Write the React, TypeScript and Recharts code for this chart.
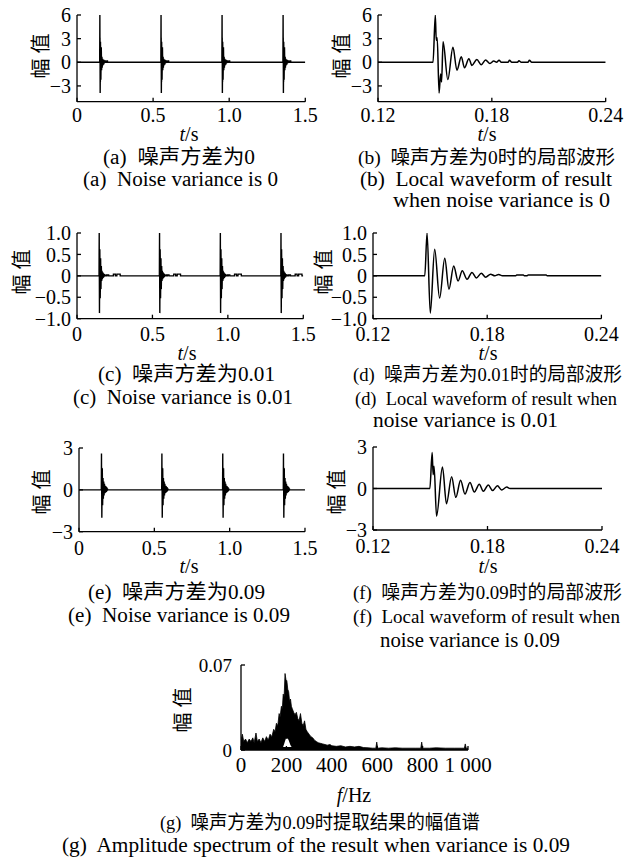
import React from "react";
import { ComposedChart, Line, Area, XAxis, YAxis } from "recharts";

const SERIF = '"Liberation Serif", "Noto Sans CJK SC", serif';

// (b) local waveform, noise variance 0
const waveT0 = [0.12, 0.149, 0.1502, 0.1507, 0.1512, 0.1522, 0.153, 0.1535, 0.1543, 0.1568, 0.1595, 0.1616, 0.1639, 0.1656, 0.1679, 0.1695, 0.1721, 0.1744, 0.1767, 0.179, 0.181, 0.1825, 0.1838, 0.185, 0.1885, 0.1893, 0.1905, 0.1935, 0.1943, 0.1955, 0.199, 0.1998, 0.201, 0.24];
const waveV0 = [0, 0, 6, 2.8, 3.1, -3.9, -1.5, -2.5, 2.6, -2.2, 1.9, -1.0, 0.7, -0.7, 0.45, -0.4, 0.35, -0.3, 0.3, -0.15, 0.15, 0, 0.25, 0, 0, 0.25, 0, 0, 0.2, 0, 0, 0.25, 0, 0];

// (d) local waveform, noise variance 0.01
const waveT1 = [0.12, 0.1472, 0.1484, 0.1501, 0.1524, 0.155, 0.1577, 0.1599, 0.1624, 0.1647, 0.1669, 0.1694, 0.172, 0.1743, 0.1769, 0.1792, 0.1818, 0.184, 0.186, 0.188, 0.195, 0.1955, 0.199, 0.1995, 0.201, 0.2015, 0.211, 0.2115, 0.24];
const waveV1 = [0, 0, 1.0, -0.87, 0.62, -0.52, 0.41, -0.31, 0.23, -0.12, 0.12, -0.08, 0.08, -0.05, 0.06, -0.03, 0.04, 0, 0.03, 0, 0, 0.02, 0.02, 0, 0, 0.02, 0.02, 0, 0];

// (f) local waveform, noise variance 0.09
const waveT9 = [0.12, 0.1498, 0.151, 0.1515, 0.152, 0.1533, 0.1564, 0.1585, 0.1612, 0.1634, 0.1659, 0.1682, 0.1708, 0.1731, 0.1757, 0.1778, 0.1804, 0.1827, 0.1852, 0.1874, 0.1901, 0.1918, 0.24];
const waveV9 = [0, 0, 2.6, 1.0, 1.6, -2.0, 1.55, -1.1, 0.85, -0.64, 0.6, -0.4, 0.43, -0.25, 0.3, -0.2, 0.25, -0.15, 0.2, -0.1, 0.1, 0, 0];

// impulse onsets in the full records (a), (c), (e)
const onsetsA = [0.149, 0.551, 0.952, 1.353];
const onsetsC = [0.146, 0.546, 0.949, 1.351];
const onsetsE = [0.148, 0.549, 0.953, 1.356];

// small steps that follow each impulse in (c), time after onset
const tailT1 = [0.095, 0.0955, 0.108, 0.1085, 0.118, 0.1185, 0.14, 0.1405];
const tailV1 = [0, 0.04, 0.04, 0, 0, 0.04, 0.04, 0];

// (g) amplitude spectrum
const specF = [0, 6, 12, 20, 28, 36, 44, 52, 58, 66, 72, 80, 88, 96, 104, 112, 120, 128, 136, 144, 150, 156, 162, 168, 172, 178, 182, 186, 190, 194, 198, 202, 206, 210, 214, 218, 222, 226, 232, 238, 244, 250, 256, 262, 268, 274, 280, 286, 292, 300, 308, 316, 324, 332, 340, 350, 360, 370, 380, 392, 400, 420, 440, 460, 480, 500, 520, 540, 560, 580, 594, 598, 602, 620, 650, 680, 710, 740, 770, 792, 796, 800, 830, 860, 900, 940, 970, 984, 988, 992, 1000];
const specA = [0.008, 0.013, 0.007, 0.009, 0.006, 0.009, 0.007, 0.01, 0.006, 0.014, 0.007, 0.009, 0.006, 0.01, 0.007, 0.011, 0.008, 0.013, 0.011, 0.017, 0.015, 0.022, 0.02, 0.03, 0.027, 0.036, 0.034, 0.046, 0.044, 0.063, 0.058, 0.057, 0.05, 0.048, 0.04, 0.042, 0.036, 0.034, 0.031, 0.029, 0.031, 0.026, 0.024, 0.03, 0.022, 0.02, 0.024, 0.017, 0.015, 0.013, 0.011, 0.01, 0.008, 0.007, 0.006, 0.0055, 0.005, 0.0045, 0.004, 0.0045, 0.0035, 0.003, 0.0035, 0.0025, 0.003, 0.0025, 0.003, 0.002, 0.0018, 0.0015, 0.0015, 0.0065, 0.0015, 0.0018, 0.0015, 0.0018, 0.0015, 0.0015, 0.0015, 0.0015, 0.0065, 0.0015, 0.0015, 0.0018, 0.0015, 0.0015, 0.0015, 0.0015, 0.005, 0.0015, 0.0015];
// white gap inside the peak
const holeF = [186, 190, 194, 198, 202, 206, 210, 214, 218, 222];
const holeLo = [0.0025, 0.0025, 0.0025, 0.0025, 0.0025, 0.0025, 0.0025, 0.0025, 0.0025, 0.0025];
const holeHi = [0.0028, 0.005, 0.0075, 0.0095, 0.009, 0.0095, 0.008, 0.006, 0.004, 0.0028];

const fullTicks = [0, 0.5, 1, 1.5];
const localTicks = [0.12, 0.18, 0.24];

const zip = (t: number[], v: number[]) => t.map((x, i) => ({ t: x, v: v[i] }));

function bursts(t: number[], v: number[], start: number, onsets: number[], tT: number[] = [], tV: number[] = []) {
  const rows = [{ t: 0, v: 0 }];
  onsets.forEach((on) => {
    t.forEach((x, i) => {
      if (x >= start && x < 0.24) rows.push({ t: on + x - start, v: v[i] });
    });
    tT.forEach((x, i) => rows.push({ t: on + x, v: tV[i] }));
  });
  rows.push({ t: 1.5, v: 0 });
  return rows;
}

const dataA = bursts(waveT0, waveV0, 0.149, onsetsA);
const dataB = zip(waveT0, waveV0);
const dataC = bursts(waveT1, waveV1, 0.1472, onsetsC, tailT1, tailV1);
const dataD = zip(waveT1, waveV1);
const dataE = bursts(waveT9, waveV9, 0.1498, onsetsE);
const dataF = zip(waveT9, waveV9);
const dataG = specF.map((f, i) => {
  const j = holeF.indexOf(f);
  return { t: f, a: specA[i], h: j >= 0 ? [holeLo[j], holeHi[j]] : null };
});

const minus = (s: string) => s.replace("-", "\u2212");
const fmtFull = (v: number) => (v === 0 ? "0" : v.toFixed(1));
const fmtLocal = (v: number) => v.toFixed(2);
const fmtInt = (v: number) => minus(String(v));
const fmtOne = (v: number) => (v === 0 ? "0" : minus(v.toFixed(1)));
const fmtHz = (v: number) => (v === 1000 ? "1 000" : String(v));

type Box = { x: number; y: number; w: number; h: number };

function Panel(props: {
  box: Box;
  data: any[];
  xDomain: number[];
  xTicks: number[];
  xFmt: (v: number) => string;
  yDomain: number[];
  yTicks: number[];
  yFmt: (v: number) => string;
  xMargin: number;
  yMargin?: number;
  xFont?: number;
  yFont?: number;
  children: React.ReactNode;
}) {
  const { box } = props;
  const yW = 70, mt = 12, mr = 26, xH = 36;
  const axis = { stroke: "#000", strokeWidth: 1.3 };
  return (
    <div style={{ position: "absolute", left: box.x - yW, top: box.y - mt }}>
      <ComposedChart
        width={yW + box.w + mr}
        height={mt + box.h + xH}
        data={props.data}
        margin={{ top: mt, right: mr, left: 0, bottom: 0 }}
      >
        <XAxis
          type="number"
          dataKey="t"
          domain={props.xDomain}
          ticks={props.xTicks}
          tickFormatter={props.xFmt}
          interval={0}
          height={xH}
          allowDataOverflow
          axisLine={axis}
          tickLine={axis}
          tickSize={-4}
          tickMargin={props.xMargin}
          tick={{ fill: "#000", fontSize: props.xFont ?? 20, fontFamily: SERIF }}
        />
        <YAxis
          type="number"
          domain={props.yDomain}
          ticks={props.yTicks}
          tickFormatter={props.yFmt}
          interval={0}
          width={yW}
          allowDataOverflow
          axisLine={axis}
          tickLine={axis}
          tickSize={-4}
          tickMargin={props.yMargin ?? 10}
          tick={{ fill: "#000", fontSize: props.yFont ?? 20, fontFamily: SERIF }}
        />
        {props.children}
      </ComposedChart>
    </div>
  );
}

const fullWave = (
  <Line dataKey="v" type="linear" stroke="#000" strokeWidth={1.4} dot={false} activeDot={false} isAnimationActive={false} />
);
const localWave = (
  <Line dataKey="v" type="monotoneX" stroke="#000" strokeWidth={1.5} dot={false} activeDot={false} isAnimationActive={false} />
);

// caption lines: centre x, centre y, width in the reference, font size, text
const captions: [number, number, number, number, string][] = [
  [179, 158, 152, 20.5, "(a)  噪声方差为0"],
  [180.5, 180, 195, 20.5, "(a)  Noise variance is 0"],
  [486.5, 158, 257, 19.5, "(b)  噪声方差为0时的局部波形"],
  [486, 180, 252, 20.5, "(b)  Local waveform of result"],
  [501.5, 201, 217, 20.5, "when noise variance is 0"],
  [186.5, 375, 177, 20.5, "(c)  噪声方差为0.01"],
  [183, 398, 220, 20.5, "(c)  Noise variance is 0.01"],
  [487.5, 375, 269, 18.8, "(d)  噪声方差为0.01时的局部波形"],
  [486, 399, 262, 18.5, "(d)  Local waveform of result when"],
  [465.5, 421, 185, 20.5, "noise variance is 0.01"],
  [176.5, 593, 177, 20.5, "(e)  噪声方差为0.09"],
  [179, 616, 222, 20.5, "(e)  Noise variance is 0.09"],
  [487.5, 593, 269, 18.8, "(f)  噪声方差为0.09时的局部波形"],
  [486.5, 617, 267, 18.8, "(f)  Local waveform of result when"],
  [470, 641, 180, 20.5, "noise variance is 0.09"],
  [320, 823, 320, 19.5, "(g)  噪声方差为0.09时提取结果的幅值谱"],
  [316, 846, 508, 20.5, "(g)  Amplitude spectrum of the result when variance is 0.09"],
];

const yLabels: [number, number][] = [
  [41, 56], [342, 56], [22, 272], [324, 272], [42, 492], [337, 492], [183, 710],
];

const xLabels: [number, number, string, string][] = [
  [189, 134, "t", "/s"], [487, 134, "t", "/s"],
  [187, 353, "t", "/s"], [488, 353, "t", "/s"],
  [189, 566, "t", "/s"], [488, 566, "t", "/s"],
  [354, 795, "f", "/Hz"],
];

function Texts() {
  return (
    <svg width={633} height={860} style={{ position: "absolute", left: 0, top: 0, pointerEvents: "none" }}>
      <g fontFamily={SERIF} fill="#000">
        {captions.map(([x, y, w, fs, text], i) => (
          <text key={i} x={x} y={y + 6} fontSize={fs} textAnchor="middle" textLength={w} lengthAdjust="spacingAndGlyphs" style={{ whiteSpace: "pre" }}>
            {text}
          </text>
        ))}
        {yLabels.map(([x, y], i) => (
          <text key={i} transform={`translate(${x},${y}) rotate(-90)`} fontSize={20} textAnchor="middle" dominantBaseline="central" textLength={45} lengthAdjust="spacing">
            幅值
          </text>
        ))}
        {xLabels.map(([x, y, v, unit], i) => (
          <text key={i} x={x} y={y + 6.5} fontSize={20} textAnchor="middle">
            <tspan fontStyle="italic">{v}</tspan>
            {unit}
          </text>
        ))}
      </g>
    </svg>
  );
}

export default function App() {
  return (
    <div
      style={{
        position: "fixed",
        left: 0,
        top: 0,
        width: 633,
        height: 860,
        background: "#fff",
        overflow: "hidden",
        fontFamily: SERIF,
        color: "#000",
      }}
    >
      <Panel box={{ x: 76.7, y: 15, w: 228.3, h: 86.7 }} data={dataA} xDomain={[0, 1.5]} xTicks={fullTicks} xFmt={fmtFull}
        yDomain={[-5, 6]} yTicks={[-3, 0, 3, 6]} yFmt={fmtInt} xMargin={10}>
        {fullWave}
      </Panel>
      <Panel box={{ x: 378.3, y: 15, w: 227.7, h: 86.7 }} data={dataB} xDomain={[0.12, 0.24]} xTicks={localTicks} xFmt={fmtLocal}
        yDomain={[-5, 6]} yTicks={[-3, 0, 3, 6]} yFmt={fmtInt} xMargin={10}>
        {localWave}
      </Panel>
      <Panel box={{ x: 76.7, y: 233.3, w: 226.3, h: 85.7 }} data={dataC} xDomain={[0, 1.5]} xTicks={fullTicks} xFmt={fmtFull}
        yDomain={[-1, 1]} yTicks={[-1, -0.5, 0, 0.5, 1]} yFmt={fmtOne} xMargin={12.5}>
        {fullWave}
      </Panel>
      <Panel box={{ x: 373.3, y: 233.3, w: 228.4, h: 85.7 }} data={dataD} xDomain={[0.12, 0.24]} xTicks={localTicks} xFmt={fmtLocal}
        yDomain={[-1, 1]} yTicks={[-1, -0.5, 0, 0.5, 1]} yFmt={fmtOne} xMargin={12.5}>
        {localWave}
      </Panel>
      <Panel box={{ x: 79, y: 448, w: 226, h: 83.7 }} data={dataE} xDomain={[0, 1.5]} xTicks={fullTicks} xFmt={fmtFull}
        yDomain={[-3, 3]} yTicks={[-3, 0, 3]} yFmt={fmtInt} xMargin={13.5}>
        {fullWave}
      </Panel>
      <Panel box={{ x: 373.3, y: 447, w: 229, h: 83 }} data={dataF} xDomain={[0.12, 0.24]} xTicks={localTicks} xFmt={fmtLocal}
        yDomain={[-3, 3]} yTicks={[-3, 0, 3]} yFmt={fmtInt} xMargin={13}>
        {localWave}
      </Panel>
      <Panel box={{ x: 241, y: 665, w: 227, h: 85 }} data={dataG} xDomain={[0, 1000]} xTicks={[0, 200, 400, 600, 800, 1000]} xFmt={fmtHz}
        yDomain={[0, 0.07]} yTicks={[0, 0.07]} yFmt={(v) => (v === 0 ? "0" : v.toFixed(2))} xMargin={11} yMargin={13} xFont={21} yFont={19}>
        <Area dataKey="a" type="linear" stroke="#000" strokeWidth={0.8} fill="#000" fillOpacity={1} dot={false} activeDot={false} isAnimationActive={false} />
        <Area dataKey="h" type="linear" stroke="none" fill="#fff" fillOpacity={1} dot={false} activeDot={false} isAnimationActive={false} />
      </Panel>
      <Texts />
    </div>
  );
}
